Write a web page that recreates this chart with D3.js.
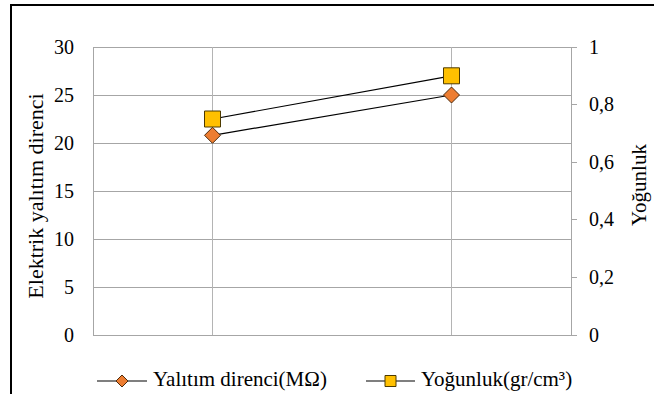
<!DOCTYPE html>
<html>
<head>
<meta charset="utf-8">
<script src="https://cdn.jsdelivr.net/npm/d3@7"></script>
<style>
  html, body { margin: 0; padding: 0; background: #fff; }
  svg { display: block; font-family: "Liberation Serif"; }
</style>
</head>
<body>
<svg id="chart" width="654" height="394"></svg>
<script>
// Two measurement points
const categories = ["1", "2"];
const resistance = [20.8, 25.0];   // Yalıtım direnci (MΩ), left axis
const density = [0.75, 0.90];      // Yoğunluk (gr/cm³), right axis

const leftTicks = [0, 5, 10, 15, 20, 25, 30];
const rightTicks = [0, 0.2, 0.4, 0.6, 0.8, 1];

const seriesNames = ["Yalıtım direnci(MΩ)", "Yoğunluk(gr/cm³)"];
const leftTitle = "Elektrik yalıtım direnci";
const rightTitle = "Yoğunluk";

const FONT = '"Liberation Serif"';
const svg = d3.select("#chart");
const plot = { left: 93, right: 571, top: 47, bottom: 335 };

// outer frame
svg.append("rect")
  .attr("x", 11).attr("y", 5).attr("width", 700).attr("height", 500)
  .attr("fill", "none").attr("stroke", "#000").attr("stroke-width", 2);

const x = d3.scaleBand().domain(categories).range([plot.left, plot.right]);
const xc = d => x(d) + x.bandwidth() / 2;
const yL = d3.scaleLinear().domain([0, 30]).range([plot.bottom, plot.top]);
const yR = d3.scaleLinear().domain([0, 1]).range([plot.bottom, plot.top]);

const grid = svg.append("g");
// horizontal gridlines
grid.selectAll("line.h").data(leftTicks).join("line")
  .attr("class", "h")
  .attr("x1", plot.left).attr("x2", plot.right)
  .attr("y1", d => yL(d)).attr("y2", d => yL(d))
  .attr("stroke", "#a6a6a6").attr("stroke-width", 1).attr("shape-rendering", "crispEdges");
// vertical gridlines at categories
grid.selectAll("line.v").data(categories).join("line")
  .attr("class", "v")
  .attr("x1", d => xc(d)).attr("x2", d => xc(d))
  .attr("y1", plot.top).attr("y2", plot.bottom)
  .attr("stroke", "#b4b4b4").attr("stroke-width", 1).attr("shape-rendering", "crispEdges");
// plot left border and right axis line
grid.append("line")
  .attr("x1", plot.left).attr("x2", plot.left)
  .attr("y1", plot.top).attr("y2", plot.bottom)
  .attr("stroke", "#a6a6a6").attr("shape-rendering", "crispEdges");
grid.append("line")
  .attr("x1", plot.right).attr("x2", plot.right)
  .attr("y1", plot.top).attr("y2", plot.bottom)
  .attr("stroke", "#a6a6a6").attr("shape-rendering", "crispEdges");
// right axis tick marks
grid.selectAll("line.rt").data(rightTicks).join("line")
  .attr("class", "rt")
  .attr("x1", plot.right).attr("x2", plot.right + 6)
  .attr("y1", d => yR(d)).attr("y2", d => yR(d))
  .attr("stroke", "#a6a6a6").attr("shape-rendering", "crispEdges");

// left tick labels
svg.append("g").selectAll("text").data(leftTicks).join("text")
  .attr("x", plot.left - 19).attr("y", d => yL(d)).attr("dy", "0.33em")
  .attr("text-anchor", "end").attr("font-size", 20).attr("fill", "#000")
  .text(d3.format("d"));

// right tick labels, decimal comma
const fmtComma = d => d === 0 || d === 1 ? String(d) : d3.format(".1f")(d).replace(".", ",");
svg.append("g").selectAll("text").data(rightTicks).join("text")
  .attr("x", plot.right + 18).attr("y", d => yR(d)).attr("dy", "0.33em")
  .attr("font-size", 20).attr("fill", "#000")
  .text(fmtComma);

// axis titles
svg.append("text")
  .attr("transform", `translate(43,${(plot.top + plot.bottom) / 2 + 5}) rotate(-90)`)
  .attr("text-anchor", "middle").attr("font-size", 22)
  .text(leftTitle);
svg.append("text")
  .attr("transform", `translate(646,${(plot.top + plot.bottom) / 2 - 6}) rotate(-90)`)
  .attr("text-anchor", "middle").attr("font-size", 21)
  .text(rightTitle);

// series lines
const lineL = d3.line().x((d, i) => xc(categories[i])).y(d => yL(d));
const lineR = d3.line().x((d, i) => xc(categories[i])).y(d => yR(d));
svg.append("path").attr("d", lineL(resistance)).attr("fill", "none").attr("stroke", "#000").attr("stroke-width", 1.2);
svg.append("path").attr("d", lineR(density)).attr("fill", "none").attr("stroke", "#000").attr("stroke-width", 1.2);

const diamond = s => `M0,${-s}L${s},0L0,${s}L${-s},0Z`;
const square = s => `M${-s},${-s}H${s}V${s}H${-s}Z`;

svg.selectAll("path.dm").data(resistance).join("path")
  .attr("class", "dm")
  .attr("transform", (d, i) => `translate(${xc(categories[i])},${yL(d)})`)
  .attr("d", diamond(8))
  .attr("fill", "#ED7D31").attr("stroke", "#4d2a0c").attr("stroke-width", 1);
svg.selectAll("path.sq").data(density).join("path")
  .attr("class", "sq")
  .attr("transform", (d, i) => `translate(${xc(categories[i])},${yR(d)})`)
  .attr("d", square(8))
  .attr("fill", "#FFC000").attr("stroke", "#4d3a00").attr("stroke-width", 1);

// legend
const legendY = 381;
const legend = [
  { x0: 97, x1: 147, tx: 153, shape: diamond(6), fill: "#ED7D31", stroke: "#4d2a0c", name: seriesNames[0] },
  { x0: 366, x1: 415, tx: 421, shape: square(5.5), fill: "#FFC000", stroke: "#4d3a00", name: seriesNames[1] }
];
const lg = svg.append("g").selectAll("g").data(legend).join("g");
lg.append("line").attr("x1", d => d.x0).attr("x2", d => d.x1)
  .attr("y1", legendY).attr("y2", legendY).attr("stroke", "#000").attr("stroke-width", 1.2);
lg.append("path").attr("transform", d => `translate(${(d.x0 + d.x1) / 2},${legendY})`)
  .attr("d", d => d.shape).attr("fill", d => d.fill).attr("stroke", d => d.stroke);
lg.append("text").attr("x", d => d.tx).attr("y", legendY + 5).attr("font-size", 21)
  .attr("fill", "#000").text(d => d.name);

// apply the serif face to every label, and again once the face has loaded
const applyFont = () => svg.selectAll("text").style("font-family", FONT);
applyFont();
if (document.fonts && document.fonts.load) {
  document.fonts.load('20px "Liberation Serif"').then(applyFont).catch(() => {});
}
</script>
</body>
</html>
